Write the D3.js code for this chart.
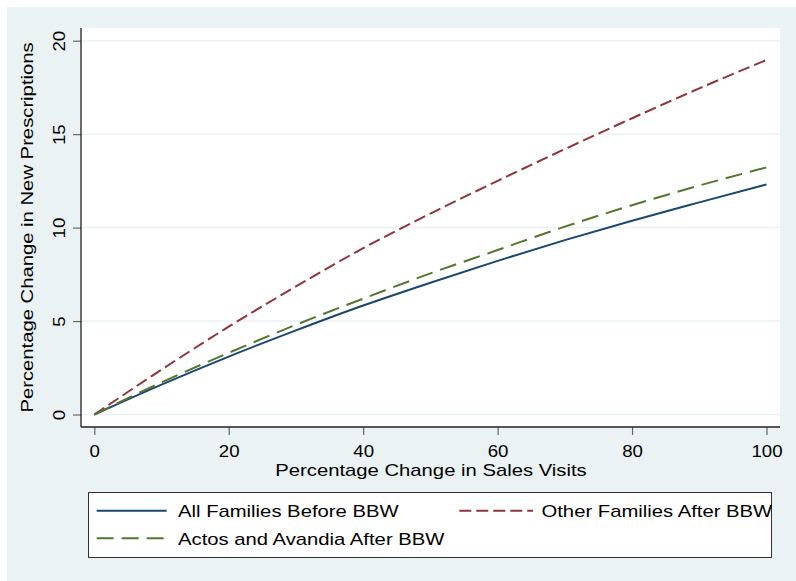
<!DOCTYPE html>
<html><head><meta charset="utf-8">
<script src="https://cdn.jsdelivr.net/npm/d3@7"></script>
<style>body{margin:0;background:#fff;} svg{display:block;font-family:"Liberation Sans",Arial,sans-serif;}</style>
</head><body>
<svg id="c" width="796" height="581"></svg>
<script>
const xValues = [0,10,20,30,40,50,60,70,80,90,100];
const allFamiliesBefore = [0,1.6,3.1,4.5,5.83,7.05,8.22,9.33,10.37,11.35,12.31];
const otherFamiliesAfter = [0,2.4,4.7,6.85,8.9,10.75,12.5,14.2,15.85,17.45,18.97];
const actosAvandiaAfter = [0,1.72,3.3,4.8,6.2,7.55,8.8,10.05,11.2,12.25,13.22];
const xTicks = [0,20,40,60,80,100];
const yTicks = [0,5,10,15,20];
const seriesNames = ["All Families Before BBW","Other Families After BBW","Actos and Avandia After BBW"];

const svg = d3.select("#c");
const bg = "#EAF2F3";
const FS = 17;
const TXT_F = 1.191, TICK_F = 1.097;
function stretch(sel, f){
  sel.each(function(){
    const L = this.getComputedTextLength();
    d3.select(this).attr("textLength", L*f).attr("lengthAdjust","spacingAndGlyphs");
  });
}
svg.append("rect").attr("x",7).attr("y",7).attr("width",789).attr("height",574).attr("fill",bg);

const pl = 82, pr = 780, pt = 28, pb = 427;
svg.append("rect").attr("x",pl).attr("y",pt).attr("width",pr-pl).attr("height",pb-pt).attr("fill","#fff");

const x = d3.scaleLinear().domain([0,100]).range([94.3,766.5]);
const y = d3.scaleLinear().domain([0,20]).range([414.5,40.7]);

// gridlines
svg.append("g").selectAll("line").data(yTicks).join("line")
  .attr("x1",pl).attr("x2",pr).attr("y1",d=>y(d)).attr("y2",d=>y(d))
  .attr("stroke",bg).attr("stroke-width",1.5);

// axes
const xAxis = svg.append("g").attr("transform",`translate(0,${pb})`)
  .call(d3.axisBottom(x).tickValues(xTicks).tickSize(8).tickPadding(10).tickFormat(d3.format("d")));
xAxis.select(".domain").remove();
xAxis.selectAll(".tick line").attr("stroke","#666").attr("stroke-width",1.2);
xAxis.selectAll(".tick text").attr("font-size",FS).attr("fill","#000").attr("font-family","Liberation Sans, Arial, sans-serif");
stretch(xAxis.selectAll(".tick text"), TICK_F);

const yAxis = svg.append("g").attr("transform",`translate(${pl-1},0)`)
  .call(d3.axisLeft(y).tickValues(yTicks).tickSize(8).tickFormat(d3.format("d")));
yAxis.select(".domain").remove();
yAxis.selectAll(".tick line").attr("stroke","#666").attr("stroke-width",1.2);
yAxis.selectAll(".tick text").remove();
const yt = yAxis.selectAll(".tick").append("text")
  .attr("transform","translate(-16,0) rotate(-90)")
  .attr("text-anchor","middle").attr("font-size",FS).attr("fill","#000")
  .attr("font-family","Liberation Sans, Arial, sans-serif")
  .text(d=>d);
stretch(yt, TICK_F);

svg.append("line").attr("x1",pl-1).attr("x2",pl-1).attr("y1",pt).attr("y2",pb).attr("stroke","#222").attr("stroke-width",1.3);
svg.append("line").attr("x1",pl-1).attr("x2",pr).attr("y1",pb).attr("y2",pb).attr("stroke","#222").attr("stroke-width",1.3);

// titles
const xt = svg.append("text").attr("x",(pl+pr)/2).attr("y",476).attr("text-anchor","middle")
  .attr("font-size",FS).text("Percentage Change in Sales Visits");
const ytl = svg.append("text").attr("transform",`translate(33,${(pt+pb)/2}) rotate(-90)`).attr("text-anchor","middle")
  .attr("font-size",FS).text("Percentage Change in New Prescriptions");
stretch(xt, TXT_F);
stretch(ytl, TXT_F);

// series
const series = [
  {name:seriesNames[0], vals:allFamiliesBefore, color:"#1A476F", dash:null},
  {name:seriesNames[1], vals:otherFamiliesAfter, color:"#90353B", dash:"12,5"},
  {name:seriesNames[2], vals:actosAvandiaAfter, color:"#55752F", dash:"17,8"}
];
const line = d3.line().x((d,i)=>x(xValues[i])).y(d=>y(d)).curve(d3.curveMonotoneX);
series.forEach(s=>{
  svg.append("path").datum(s.vals).attr("d",line).attr("fill","none")
    .attr("stroke",s.color).attr("stroke-width",2)
    .attr("stroke-dasharray",s.dash);
});

// legend
svg.append("rect").attr("x",88.5).attr("y",492.5).attr("width",683).attr("height",65)
  .attr("fill","#fff").attr("stroke","#333").attr("stroke-width",1);
const legPos = [
  {lx1:96.7,lx2:166.7,ly:510.7,tx:178,ty:517},
  {lx1:459.3,lx2:533,ly:510.7,tx:541.5,ty:517},
  {lx1:96.7,lx2:166.7,ly:538.3,tx:178,ty:544.5}
];
series.forEach((s,i)=>{
  const p = legPos[i];
  svg.append("line").attr("x1",p.lx1).attr("x2",p.lx2).attr("y1",p.ly).attr("y2",p.ly)
    .attr("stroke",s.color).attr("stroke-width",2).attr("stroke-dasharray",s.dash);
  const t = svg.append("text").attr("x",p.tx).attr("y",p.ty).attr("font-size",FS).attr("fill","#000").text(s.name);
  stretch(t, TXT_F);
});
</script>
</body></html>
